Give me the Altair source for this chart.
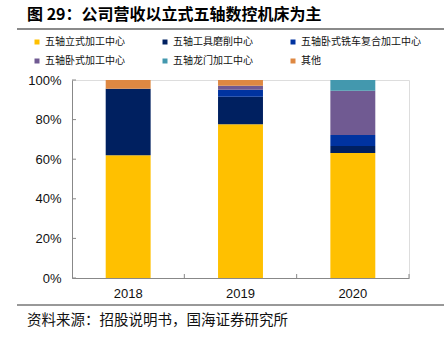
import altair as alt
import pandas as pd

years = ["2018", "2019", "2020"]
series = ["五轴立式加工中心", "五轴工具磨削中心", "五轴卧式铣车复合加工中心",
          "五轴卧式加工中心", "五轴龙门加工中心", "其他"]
colors = ["#FFC000", "#002060", "#0033A0", "#705A92", "#4398AE", "#DE8842"]

v_vertical = [62.0, 77.6, 63.1]
v_grinding = [33.6, 14.0, 3.6]
v_millturn = [0.0, 3.5, 5.5]
v_horizontal = [0.0, 2.0, 22.4]
v_gantry = [0.0, 0.0, 5.4]
v_other = [4.4, 2.9, 0.0]

title_text = "图 29：公司营收以立式五轴数控机床为主"
source_text = "资料来源：招股说明书，国海证券研究所"
y_ticks = [0, 0.2, 0.4, 0.6, 0.8, 1.0]

rows = []
for si, (name, vals) in enumerate(zip(series, [v_vertical, v_grinding, v_millturn,
                                                v_horizontal, v_gantry, v_other])):
    for y, v in zip(years, vals):
        if v > 0:
            rows.append({"year": y, "series": name, "value": v, "idx": si})
df = pd.DataFrame(rows)

W, H = 337, 198
CJK = "Noto Sans CJK SC"
LAT = "Liberation Sans"

x_axis = alt.Axis(title=None, labelAngle=0, tickSize=0, labelPadding=9,
                  labelFont=LAT, labelFontSize=13, labelColor="#111",
                  domainColor="#888", domainWidth=1)
y_axis = alt.Axis(title=None, values=y_ticks, format=".0%", tickSize=0,
                  labelPadding=11, labelFont=LAT, labelFontSize=13,
                  labelColor="#111", domainColor="#888", grid=False)
x_scale = alt.Scale(domain=years, paddingInner=0, paddingOuter=0)
y_scale = alt.Scale(domain=[0, 1])

bars = alt.Chart(df).mark_bar(width={"band": 0.4}).encode(
    x=alt.X("year:N", sort=years, scale=x_scale, axis=x_axis),
    y=alt.Y("value:Q", stack="normalize", scale=y_scale, axis=y_axis),
    color=alt.Color("series:N", sort=series,
                    scale=alt.Scale(domain=series, range=colors),
                    legend=alt.Legend(title=None, orient="none", legendX=-40, legendY=-43,
                                      direction="horizontal",
                                      columns=3, columnPadding=35, rowPadding=9,
                                      symbolType="square", symbolSize=25,
                                      symbolStrokeWidth=0, labelOffset=3,
                                      labelFont=CJK, labelFontSize=10, labelColor="#111",
                                      labelLimit=200, padding=0)),
    order=alt.Order("idx:Q", sort="ascending"),
)

ytick_df = pd.DataFrame({"value": y_ticks})
yticks = alt.Chart(ytick_df).mark_rule(color="#888").encode(
    y=alt.Y("value:Q", scale=y_scale, axis=y_axis), x=alt.value(0), x2=alt.value(4))

xtick_df = pd.DataFrame({"year": years})
xticks = alt.Chart(xtick_df).mark_rule(color="#888").encode(
    x=alt.X("year:N", sort=years, bandPosition=1, scale=x_scale, axis=x_axis),
    y=alt.value(H), y2=alt.value(H - 4))

title = alt.Chart(pd.DataFrame({"t": [title_text]})).mark_text(
    align="left", baseline="middle", font=CJK, fontSize=16, fontWeight="bold",
    color="#000").encode(text="t:N", x=alt.value(27 - 72), y=alt.value(15 - 80))

top_line = alt.Chart(pd.DataFrame({"a": [0]})).mark_rule(
    color="#8a8a8a", strokeWidth=2).encode(
    x=alt.value(17 - 72), x2=alt.value(444 - 72), y=alt.value(29 - 80))

bottom_line = alt.Chart(pd.DataFrame({"a": [0]})).mark_rule(
    color="#333", strokeWidth=1).encode(
    x=alt.value(17 - 72), x2=alt.value(444 - 72), y=alt.value(305 - 80))

source = alt.Chart(pd.DataFrame({"t": [source_text]})).mark_text(
    align="left", baseline="middle", font=CJK, fontSize=14.5, color="#111").encode(
    text="t:N", x=alt.value(27 - 72), y=alt.value(321 - 80))

chart = alt.layer(bars, yticks, xticks, title, top_line, bottom_line, source).properties(
    width=W, height=H,
    autosize=alt.AutoSizeParams(type="none"),
    padding={"left": 72, "top": 80, "right": 35, "bottom": 60},
).configure_view(stroke=None).configure(background="white")

chart.save("out.html", embed_options={"renderer": "svg", "actions": False})
